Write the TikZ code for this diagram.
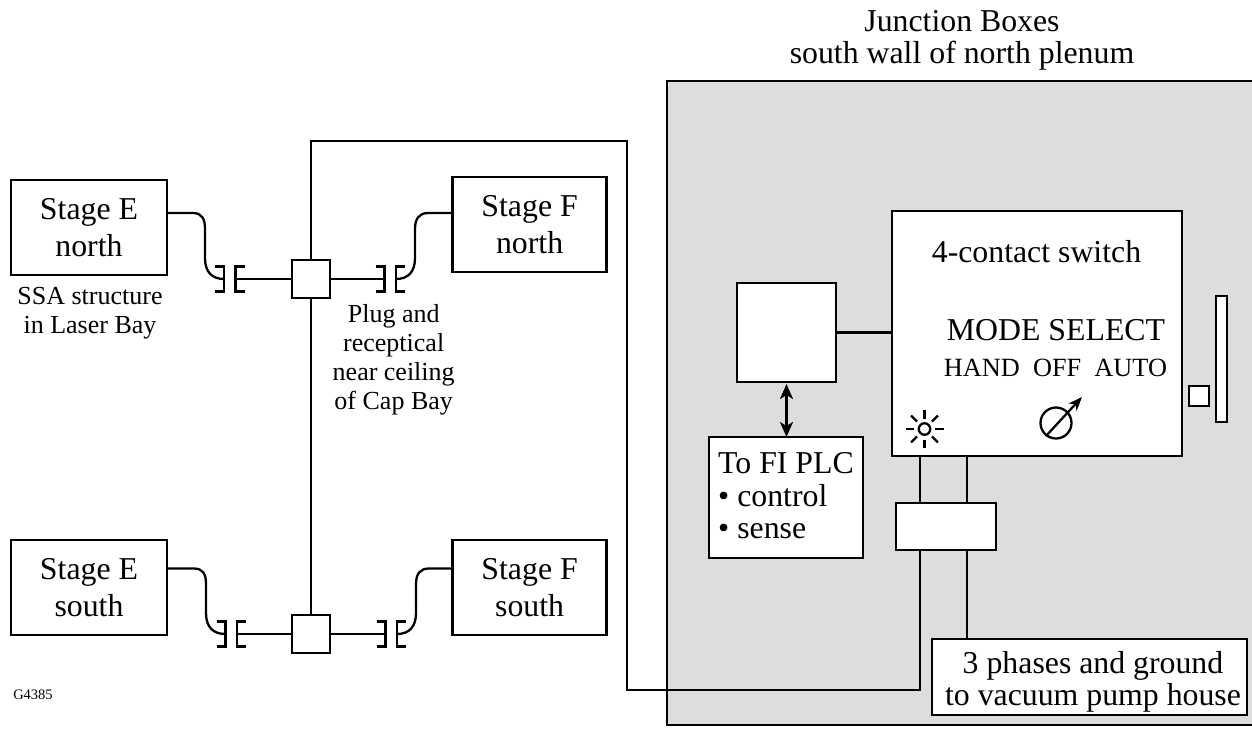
\documentclass[tikz,border=0pt]{standalone}
\usepackage{fontspec}
\usetikzlibrary{arrows.meta}
\setmainfont{Liberation Serif}
\definecolor{panelgray}{HTML}{DDDDDD}
\tikzset{
    wire/.style={line width=2.3pt, line join=miter},
    unit/.style={rectangle, draw=black, fill=white, line width=2.3pt, inner sep=0pt, outer sep=0pt, align=center, font=\fontsize{31.8}{37.5}\selectfont},
    caption/.style={inner sep=0pt, align=center, font=\fontsize{31.8}{32}\selectfont},
    smallcaption/.style={inner sep=0pt, align=center, font=\fontsize{26}{29.5}\selectfont}
}
\begin{document}
\begin{tikzpicture}[x=1pt, y=-1pt]
    \useasboundingbox (0, 0) rectangle (1252, 729);

    % plenum wall
    \fill[panelgray] (667, 81) rectangle (1252, 725);
    \draw[wire] (1252, 81) -- (667, 81) -- (667, 725) -- (1252, 725);

    % stages
    \node[unit, minimum width=156pt, minimum height=95pt] (stageEn) at (89, 227.5) {Stage E\\north};
    \node[unit, minimum width=154pt, minimum height=94.5pt] (stageFn) at (529.6, 224.5) {Stage F\\north};
    \node[unit, minimum width=156pt, minimum height=95pt] (stageEs) at (89, 587.5) {Stage E\\south};
    \node[unit, minimum width=154pt, minimum height=95pt] (stageFs) at (529.6, 587.5) {Stage F\\south};

    \node[unit, minimum size=38pt] (juncN) at (311, 279) {};
    \node[unit, minimum size=38pt] (juncS) at (311, 634) {};

    % plugs and recepticals
    \foreach \name/\x/\y in {plugEn/229.5/279, plugFn/390/279, plugEs/231/634, plugFs/391/634} {
        \coordinate (\name l) at (\x-5.5, \y);
        \coordinate (\name r) at (\x+6, \y);
        \draw[wire] (\x-14.5, \y-12.5) -- (\x-5.5, \y-12.5) -- (\x-5.5, \y+12.5) -- (\x-14.5, \y+12.5);
        \draw[wire] (\x+15, \y-12.5) -- (\x+6, \y-12.5) -- (\x+6, \y+12.5) -- (\x+15, \y+12.5);
    }

    \draw[wire] ([yshift=14.5pt]stageEn.east) -- (193, 213) .. controls (202, 213) and (205, 219) .. (205, 229) -- (205, 258) .. controls (205, 272) and (212, 279) .. (plugEnl);
    \draw[wire] ([yshift=19pt]stageEs.east) -- (194, 568.5) .. controls (203, 568.5) and (206, 574) .. (206, 584) -- (206, 613) .. controls (206, 627) and (213, 634) .. (plugEsl);
    \draw[wire] ([yshift=11.5pt]stageFn.west) -- (428, 213) .. controls (419, 213) and (415, 219) .. (415, 229) -- (415, 258) .. controls (415, 272) and (408, 279) .. (plugFnr);
    \draw[wire] ([yshift=19pt]stageFs.west) -- (429, 568.5) .. controls (420, 568.5) and (416, 574) .. (416, 584) -- (416, 613) .. controls (416, 627) and (409, 634) .. (plugFsr);

    \draw[wire] (plugEnr) -- (juncN.west);
    \draw[wire] (juncN.east) -- (plugFnl);
    \draw[wire] (plugEsr) -- (juncS.west);
    \draw[wire] (juncS.east) -- (plugFsl);
    \draw[wire] (juncN.south) -- (juncS.north);

    % switch and its neighbours
    \node[unit, minimum width=290pt, minimum height=245pt] (switch) at (1037, 333.5) {};
    \node[unit, minimum size=99pt] (relay) at (786.5, 332.5) {};
    \node[unit, minimum width=154pt, minimum height=121pt] (plc) at (786, 497.5) {};
    \node[unit, minimum width=100pt, minimum height=47pt] (breaker) at (946, 526.5) {};
    \node[unit, minimum width=315pt, minimum height=76pt] (pump) at (1089.5, 677) {};
    \node[unit, minimum size=20pt] (latch) at (1199, 396) {};
    \node[unit, minimum width=11pt, minimum height=126pt] (handle) at (1221.5, 359) {};

    \draw[wire] (relay.east) -- (relay.east -| switch.west);
    \draw[wire, shorten <=2pt, {Stealth[length=15pt, width=13pt, inset=4pt]}-{Stealth[length=15pt, width=13pt, inset=4pt]}] (relay.south) -- (relay.south |- plc.north);

    \coordinate (wireA) at (920, 457);
    \coordinate (wireB) at (967, 457);
    \draw[wire] (wireA) -- (wireA |- breaker.north);
    \draw[wire] (wireB) -- (wireB |- breaker.north);
    \draw[wire] (wireB |- breaker.south) -- (wireB |- pump.north);
    \draw[wire] (juncN.north) -- (311, 141) -- (627, 141) -- (627, 690) -- (920, 690) -- (wireA |- breaker.south);

    % lamp
    \node[circle, draw=black, line width=2.3pt, inner sep=0pt, minimum size=11.5pt] (lamp) at (924.5, 429) {};
    \foreach \a in {0, 45, ..., 315} {
        \draw[line width=2.3pt] (lamp.center) ++(\a:10.5) -- ++(\a:8.5);
    }

    % selector
    \node[circle, draw=black, line width=2.3pt, inner sep=0pt, minimum size=31pt] (knob) at (1056, 423) {};
    \coordinate (knobtip) at (1082, 397);
    \draw[line width=2.3pt, -{Stealth[length=14pt, width=11pt]}] (1046, 436) -- (knobtip);

    % texts
    \node[caption] (title) at (962, 40) {Junction Boxes\\south wall of north plenum};
    \node[caption] (swname) at (1036.5, 252) {4-contact switch};
    \node[caption] (mode) at (1056, 330) {MODE SELECT};
    \node[inner sep=0pt, font=\fontsize{26.3}{30}\selectfont] (hand) at (1055.5, 368) {HAND~~OFF~~AUTO};
    \node[caption, align=left, font=\fontsize{31.8}{32.5}\selectfont] (plctext) at (786, 495.75) {To FI PLC\\• control\\• sense};
    \node[caption] (pumptext) at (1093, 681.7) {3 phases and ground\\to vacuum pump house};
    \node[smallcaption] (ssa) at (90, 313) {SSA structure\\in Laser Bay};
    \node[smallcaption, font=\fontsize{26}{29}\selectfont] (plug) at (393.7, 359.4) {Plug and\\receptical\\near ceiling\\of Cap Bay};
    \node[inner sep=0pt, font=\fontsize{14.5}{16}\selectfont] (tag) at (33, 695) {G4385};
\end{tikzpicture}
\end{document}
